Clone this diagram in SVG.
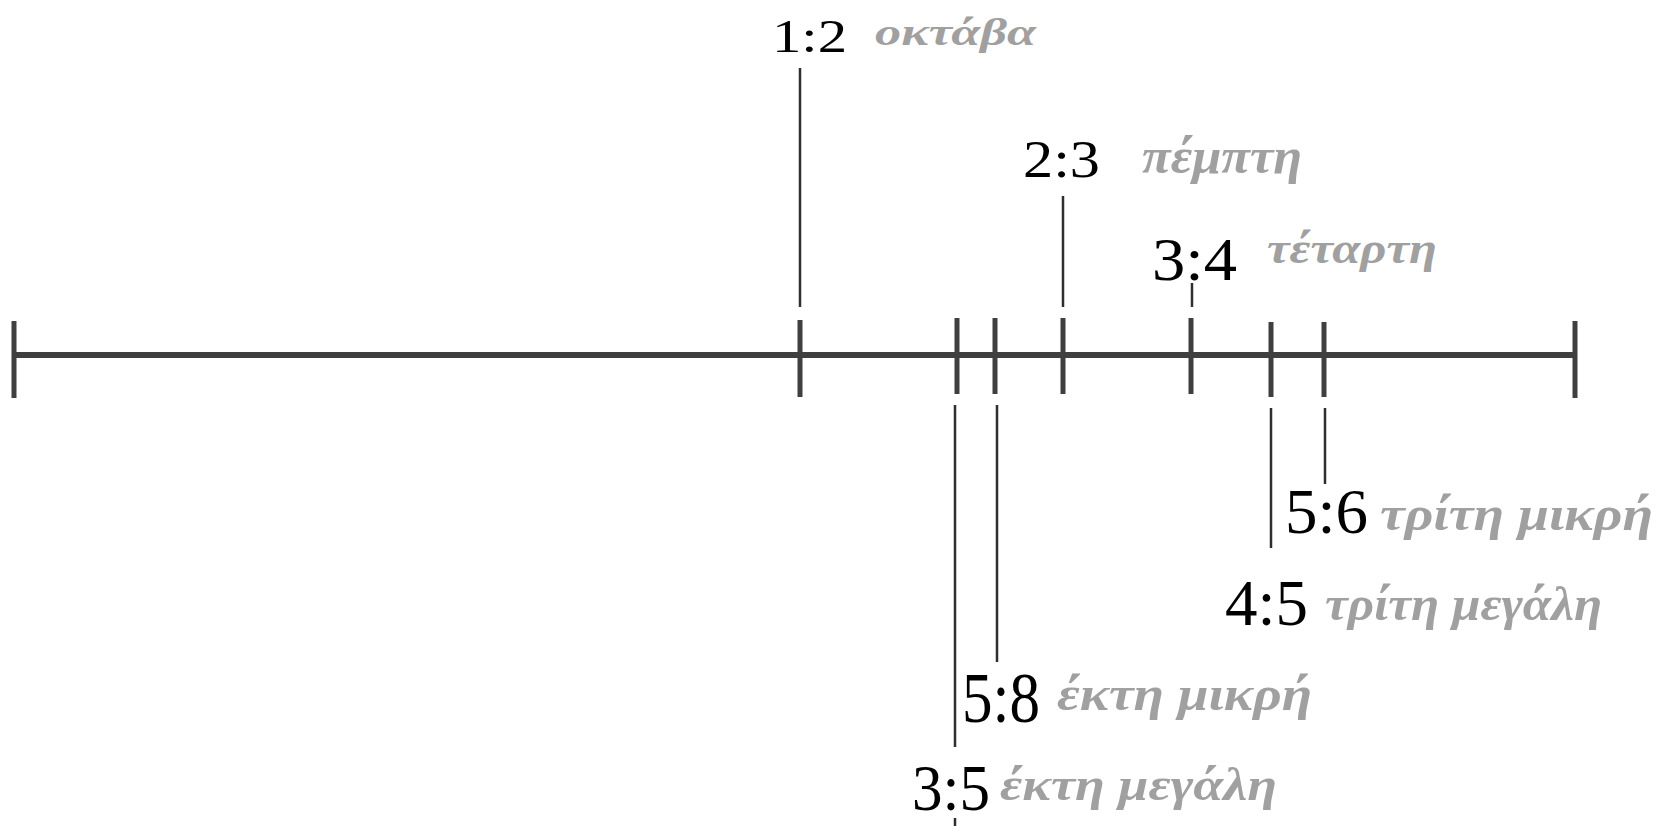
<svg xmlns="http://www.w3.org/2000/svg" width="1673" height="826" viewBox="0 0 1673 826">
<style>
.axis{stroke:#3f3f3f;stroke-width:6;fill:none}
.tick{stroke:#3f3f3f;stroke-width:5;fill:none}
.lead{stroke:#2e2e2e;stroke-width:2.5;fill:none}
.num{font-family:"Liberation Serif","DejaVu Serif",serif;fill:#000}
.gr{font-family:"Liberation Serif","DejaVu Serif",serif;font-style:italic;font-weight:bold;fill:#a0a0a0}
</style>
<rect width="1673" height="826" fill="#fff"/>
<g id="scale">
<line class="axis" x1="14" y1="355" x2="1575" y2="355"/>
<line class="tick" x1="14" y1="321" x2="14" y2="398"/>
<line class="tick" x1="1575" y1="321" x2="1575" y2="398"/>
</g>
<g id="connectors">
<line class="lead" x1="800" y1="68" x2="800" y2="307"/>
<line class="lead" x1="1063" y1="196" x2="1063" y2="307"/>
<line class="lead" x1="1192" y1="283" x2="1192" y2="307"/>
<line class="lead" x1="955" y1="405" x2="955" y2="747"/>
<line class="lead" x1="955" y1="818" x2="955" y2="826" stroke="#bbb"/>
<line class="lead" x1="997" y1="405" x2="997" y2="662"/>
<line class="lead" x1="1271" y1="408" x2="1271" y2="548"/>
<line class="lead" x1="1325" y1="408" x2="1325" y2="484"/>
</g>
<g id="n12">
<line class="tick" x1="800" y1="320" x2="800" y2="397"/>
<text class="num" x="772" y="52" font-size="46" textLength="75" lengthAdjust="spacingAndGlyphs">1:2</text>
<text class="gr" x="875" y="45" font-size="38" textLength="161" lengthAdjust="spacingAndGlyphs">οκτάβα</text>
</g>
<g id="n23">
<line class="tick" x1="1063" y1="318" x2="1063" y2="394"/>
<text class="num" x="1023" y="177" font-size="53" textLength="77" lengthAdjust="spacingAndGlyphs">2:3</text>
<text class="gr" x="1142" y="173" font-size="50" textLength="160" lengthAdjust="spacingAndGlyphs">πέμπτη</text>
</g>
<g id="n34">
<line class="tick" x1="1191" y1="318" x2="1191" y2="394"/>
<text class="num" x="1152" y="280" font-size="62" textLength="85" lengthAdjust="spacingAndGlyphs">3:4</text>
<text class="gr" x="1267" y="263" font-size="44" textLength="170" lengthAdjust="spacingAndGlyphs">τέταρτη</text>
</g>
<g id="n56">
<line class="tick" x1="1324" y1="322" x2="1324" y2="397"/>
<text class="num" x="1285" y="533" font-size="63" textLength="83" lengthAdjust="spacingAndGlyphs">5:6</text>
<text class="gr" x="1380" y="530" font-size="48" textLength="273" lengthAdjust="spacingAndGlyphs">τρίτη μικρή</text>
</g>
<g id="n45">
<line class="tick" x1="1271" y1="322" x2="1271" y2="397"/>
<text class="num" x="1225" y="625" font-size="66" textLength="83" lengthAdjust="spacingAndGlyphs">4:5</text>
<text class="gr" x="1325" y="620" font-size="48" textLength="277" lengthAdjust="spacingAndGlyphs">τρίτη μεγάλη</text>
</g>
<g id="n58">
<line class="tick" x1="995" y1="318" x2="995" y2="394"/>
<text class="num" x="962" y="722" font-size="72" textLength="78" lengthAdjust="spacingAndGlyphs">5:8</text>
<text class="gr" x="1057" y="710" font-size="48" textLength="255" lengthAdjust="spacingAndGlyphs">έκτη μικρή</text>
</g>
<g id="n35">
<line class="tick" x1="957" y1="318" x2="957" y2="394"/>
<text class="num" x="912" y="810" font-size="65" textLength="78" lengthAdjust="spacingAndGlyphs">3:5</text>
<text class="gr" x="1000" y="800" font-size="46" textLength="277" lengthAdjust="spacingAndGlyphs">έκτη μεγάλη</text>
</g>
</svg>
